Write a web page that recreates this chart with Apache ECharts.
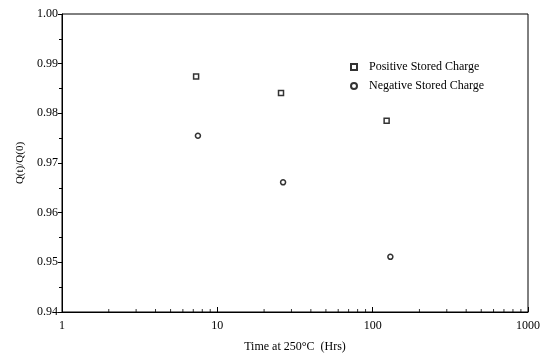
<!DOCTYPE html>
<html>
<head>
<meta charset="utf-8">
<script src="https://cdn.jsdelivr.net/npm/echarts@6/dist/echarts.min.js"></script>
<style>
  html, body { margin: 0; padding: 0; background: #fff; }
  #chart { width: 543px; height: 358px; }
</style>
</head>
<body>
<div id="chart"></div>
<script>
// hours at 250°C, and Q(t)/Q(0)
const positiveTime = [7.3, 25.7, 123]
const positiveRatio = [0.9874, 0.9841, 0.9785]
const negativeTime = [7.5, 26.5, 130]
const negativeRatio = [0.9755, 0.9661, 0.9511]
const minorTimes = [2, 3, 4, 5, 6, 7, 8, 9, 20, 30, 40, 50, 60, 70, 80, 90, 200, 300, 400, 500, 600, 700, 800, 900]

const chart = echarts.init(document.getElementById('chart'))
const font = '"Liberation Serif", "DejaVu Serif", serif'

const pairs = (xs, ys) => xs.map((x, i) => [x, ys[i]])

const option = {
  backgroundColor: '#fff',
  animation: false,
  textStyle: { fontFamily: font, color: '#000' },
  grid: {
    left: 62, right: 13, top: 14, bottom: 45,
    show: true, borderColor: '#000', borderWidth: 1
  },
  legend: {
    orient: 'vertical',
    left: 345,
    top: 56,
    itemGap: 7,
    itemWidth: 6,
    itemHeight: 6,
    textStyle: { fontFamily: font, fontSize: 12, color: '#000', padding: [0, 0, 0, 7] },
    data: ['Positive Stored Charge', 'Negative Stored Charge']
  },
  xAxis: {
    type: 'log',
    logBase: 10,
    min: 1,
    max: 1000,
    name: 'Time at 250°C  (Hrs)',
    nameLocation: 'middle',
    nameGap: 29,
    nameMoveOverlap: false,
    nameTextStyle: { fontFamily: font, fontSize: 12, color: '#000' },
    axisLine: { lineStyle: { color: '#000', width: 1 } },
    axisTick: { inside: true, length: 5, lineStyle: { color: '#000' } },
    axisLabel: { fontFamily: font, fontSize: 12, color: '#000', margin: 8, formatter: v => String(v) },
    splitLine: { show: false }
  },
  yAxis: {
    type: 'value',
    min: 0.94,
    max: 1.00,
    interval: 0.01,
    name: 'Q(t)/Q(0)',
    nameLocation: 'middle',
    nameGap: 36,
    nameMoveOverlap: false,
    nameTextStyle: { fontFamily: font, fontSize: 11, color: '#000' },
    axisLine: { lineStyle: { color: '#000', width: 1 } },
    axisTick: { length: 4, lineStyle: { color: '#000' } },
    minorTick: { show: true, splitNumber: 2, length: 3, lineStyle: { color: '#000' } },
    axisLabel: {
      fontFamily: font, fontSize: 12, color: '#000', margin: 4,
      formatter: v => v.toFixed(2)
    },
    splitLine: { show: false }
  },
  series: [
    {
      name: 'Positive Stored Charge',
      type: 'scatter',
      symbol: 'rect',
      symbolSize: 5,
      itemStyle: { color: '#fff', borderColor: '#000', borderWidth: 1.5 },
      data: pairs(positiveTime, positiveRatio)
    },
    {
      name: 'Negative Stored Charge',
      type: 'scatter',
      symbol: 'circle',
      symbolSize: 5,
      itemStyle: { color: '#fff', borderColor: '#000', borderWidth: 1.5 },
      data: pairs(negativeTime, negativeRatio)
    },
    {
      // minor log ticks along the bottom axis
      name: 'minor',
      type: 'scatter',
      symbol: 'rect',
      symbolSize: [1, 3],
      symbolOffset: [0, -1.5],
      silent: true,
      itemStyle: { color: '#000' },
      data: minorTimes.map(t => [t, 0.94])
    }
  ]
}

chart.setOption(option)
</script>
</body>
</html>
